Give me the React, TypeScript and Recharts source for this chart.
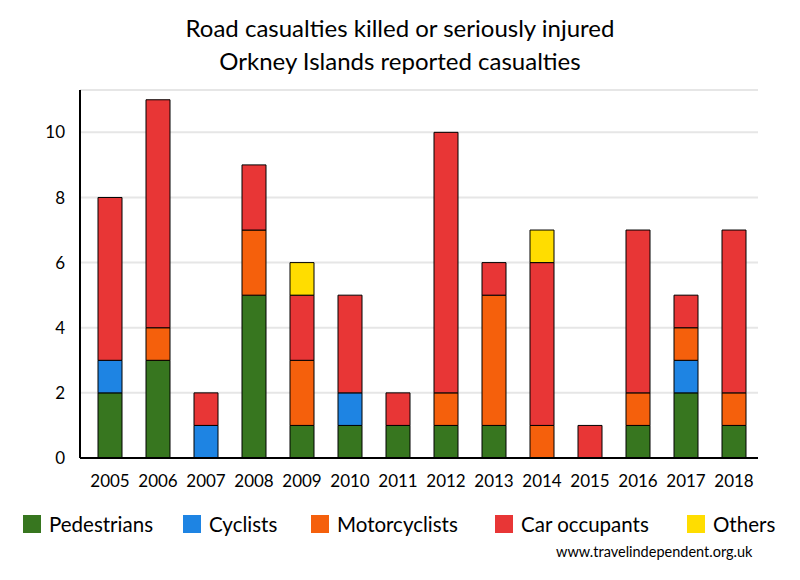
import React from "react";
import { Bar, BarChart, CartesianGrid, Legend, XAxis, YAxis } from "recharts";

const years = ["2005", "2006", "2007", "2008", "2009", "2010", "2011", "2012", "2013", "2014", "2015", "2016", "2017", "2018"];
const pedestrians = [2, 3, 0, 5, 1, 1, 1, 1, 1, 0, 0, 1, 2, 1];
const cyclists = [1, 0, 1, 0, 0, 1, 0, 0, 0, 0, 0, 0, 1, 0];
const motorcyclists = [0, 1, 0, 2, 2, 0, 0, 1, 4, 1, 0, 1, 1, 1];
const carOccupants = [5, 7, 1, 2, 2, 3, 1, 8, 1, 5, 1, 5, 1, 5];
const others = [0, 0, 0, 0, 1, 0, 0, 0, 0, 1, 0, 0, 0, 0];
const yTicks = [0, 2, 4, 6, 8, 10];

const series = [
  { key: "pedestrians", name: "Pedestrians", color: "#37761f" },
  { key: "cyclists", name: "Cyclists", color: "#1e84e3" },
  { key: "motorcyclists", name: "Motorcyclists", color: "#f5600c" },
  { key: "carOccupants", name: "Car occupants", color: "#e83636" },
  { key: "others", name: "Others", color: "#ffdd00" },
];

const data = years.map((year, i) => ({
  year,
  pedestrians: pedestrians[i],
  cyclists: cyclists[i],
  motorcyclists: motorcyclists[i],
  carOccupants: carOccupants[i],
  others: others[i],
}));

const font = "Lato, 'Open Sans', sans-serif";

// legend gaps follow the original's spacing
const legendLefts = [23, 183, 311, 495, 687];

const LegendRow = () => (
  <div style={{ position: "relative", width: 800, height: 30, fontFamily: font, fontSize: 20.5 }}>
    {series.map((s, i) => (
      <div key={s.key} style={{ position: "absolute", left: legendLefts[i], top: 5, display: "flex", alignItems: "center" }}>
        <span style={{ width: 18, height: 18, background: s.color, display: "inline-block", marginRight: 8 }} />
        <span style={{ color: "#000", lineHeight: "20px" }}>{s.name}</span>
      </div>
    ))}
  </div>
);

export default function App() {
  return (
    <div style={{ position: "absolute", left: 0, top: 0, width: 800, height: 580, background: "#fff", fontFamily: font }}>
      <div style={{ position: "absolute", top: 11, width: 800, textAlign: "center", fontSize: 24, lineHeight: "33px", color: "#000" }}>
        <div>Road casualties killed or seriously injured</div>
        <div>Orkney Islands reported casualties</div>
      </div>
      <BarChart width={800} height={580} data={data} margin={{ top: 90, right: 42, left: 0, bottom: 62 }}>
        <CartesianGrid vertical={false} stroke="#e6e6e6" strokeWidth={2} />
        <XAxis
          dataKey="year"
          height={30}
          tickLine={false}
          axisLine={{ stroke: "#000", strokeWidth: 2 }}
          padding={{ left: 6, right: 0 }}
          tick={{ fill: "#000", fontSize: 17, fontFamily: font }}
          tickMargin={11}
          interval={0}
        />
        <YAxis
          width={80}
          domain={[0, 11.3]}
          ticks={yTicks}
          tickLine={false}
          axisLine={{ stroke: "#000", strokeWidth: 2 }}
          tick={{ fill: "#000", fontSize: 17, fontFamily: font }}
          tickMargin={9}
        />
        {series.map((s) => (
          <Bar
            key={s.key}
            dataKey={s.key}
            name={s.name}
            stackId="a"
            fill={s.color}
            stroke="#000"
            strokeWidth={1}
            barSize={24}
            isAnimationActive={false}
          />
        ))}
        <Legend verticalAlign="bottom" content={<LegendRow />} wrapperStyle={{ top: 509, left: 0, bottom: "auto" }} />
      </BarChart>
      <div style={{ position: "absolute", left: 556, top: 543, fontSize: 14.5, color: "#000", fontFamily: font }}>
        www.travelindependent.org.uk
      </div>
    </div>
  );
}
